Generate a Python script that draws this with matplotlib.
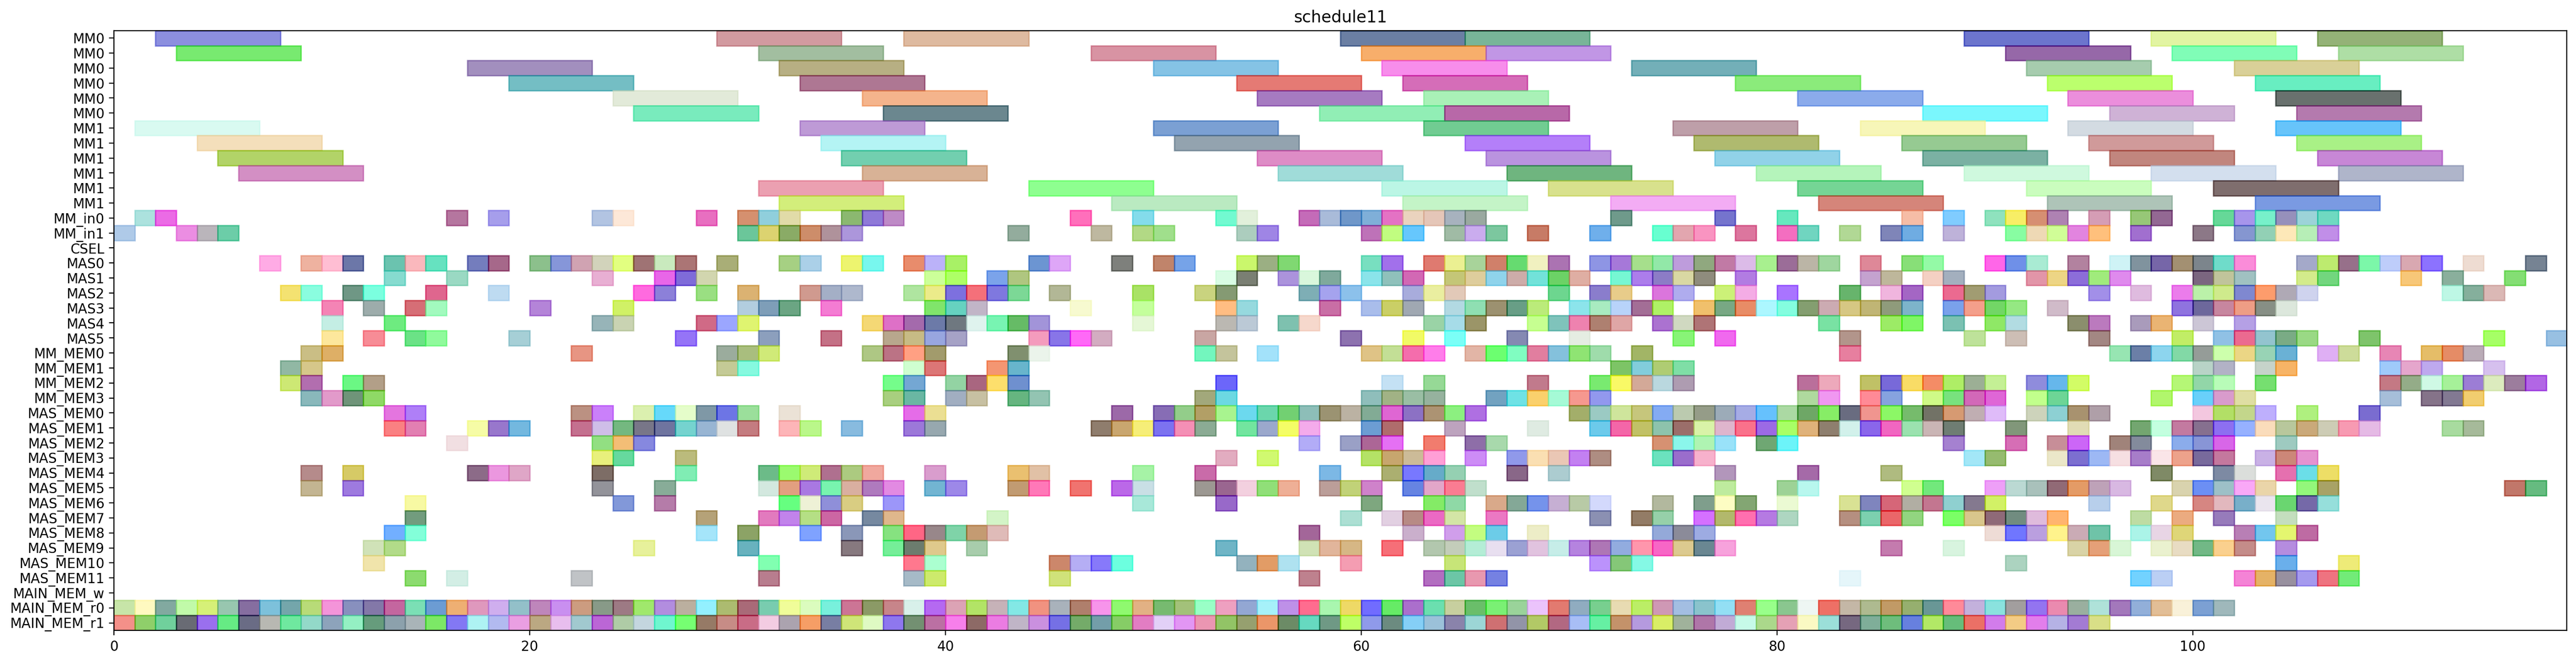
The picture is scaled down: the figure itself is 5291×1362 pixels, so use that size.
import matplotlib
matplotlib.use("Agg")
import matplotlib.pyplot as plt
from matplotlib.colors import to_rgb

TITLE = "schedule11"
ALPHA = 0.6
LONG_LEN = 6

row_labels = (["MM0"] * 6 + ["MM1"] * 6 + ["MM_in0", "MM_in1", "CSEL"]
              + ["MAS%d" % i for i in range(6)]
              + ["MM_MEM%d" % i for i in range(4)]
              + ["MAS_MEM%d" % i for i in range(12)]
              + ["MAIN_MEM_w", "MAIN_MEM_r0", "MAIN_MEM_r1"])

# start -> colour as it looks on white, one dict per row
mm0_rows = [
    {2: "#8C8FE0", 29: "#D29AA0", 38: "#DEBAA0", 59: "#6B7FA3", 65: "#78B698", 89: "#6C75CE", 98: "#E3F5A3", 106: "#94B277"},
    {3: "#78EA70", 31: "#A2BFA0", 47: "#D893A3", 60: "#F7AE6B", 66: "#C296E6", 91: "#9668A8", 99: "#80FDB7", 107: "#AEDEA5"},
    {17: "#A28FBE", 32: "#B7AF83", 50: "#85C3E6", 61: "#F78DEB", 73: "#73B0B8", 92: "#A6CCAE", 102: "#D9D098"},
    {19: "#74BEC4", 33: "#AE7793", 54: "#E57A74", 62: "#D56DB8", 78: "#8BEC7B", 93: "#BCFF6D", 103: "#68EEC1"},
    {24: "#E3EAD9", 36: "#F4B48C", 55: "#A67BC2", 63: "#A9F2B7", 81: "#8BABEC", 94: "#EC8EDC", 104: "#69716E"},
    {25: "#79EBBD", 37: "#6B878F", 58: "#91EFB6", 64: "#B968A8", 87: "#7AF8FD", 96: "#CFB2D6", 105: "#B47AAE"},
]
mm1_rows = [
    {1: "#D9FAF2", 33: "#BE9AD6", 50: "#7BA0D3", 63: "#71CC92", 75: "#BF9FA9", 84: "#F8F6B8", 94: "#D3DBE2", 104: "#67C5FB"},
    {4: "#F5DFBC", 34: "#B4F5F5", 51: "#93A3AF", 65: "#B47FF9", 76: "#AFBA6F", 86: "#96CA92", 95: "#D09A9A", 105: "#A9F186"},
    {5: "#B3D468", 35: "#72CFAF", 55: "#DE8CC6", 66: "#BA93DF", 77: "#91D2E8", 87: "#7BB1A3", 96: "#C1867E", 106: "#C887D6"},
    {6: "#D38FC4", 36: "#D8B296", 56: "#A0DDD9", 67: "#6FB57F", 79: "#B5F5BB", 89: "#CFF9DE", 98: "#D3DFEE", 107: "#AFB5CB"},
    {31: "#EBA0B1", 44: "#8EFF90", 61: "#BBF6E6", 69: "#D8E18D", 81: "#75D595", 92: "#CBFDBF", 101: "#7F6E6E"},
    {32: "#D3EF7B", 48: "#BAEAC2", 62: "#C5F5C7", 72: "#F3ACF4", 82: "#D5857A", 93: "#AEC4B8", 103: "#7A9AE2"},
]
mm_in_rows = [
    {1: "#ADE3DE", 2: "#EC6BE6", 16: "#B6769F", 18: "#A69EEB", 23: "#B3C4E3", 24: "#FDE8D8", 28: "#E86FC0", 30: "#D5906F",
     31: "#90CFDD", 32: "#E1DBA8", 35: "#8BB870", 36: "#8F79D8", 37: "#BF8AC6", 46: "#FF6FBC", 49: "#84DDEB", 53: "#72FBD1",
     54: "#E3F0DB", 57: "#C46BB8", 58: "#A9BBDA", 59: "#6F97C9", 60: "#7FB0D8", 61: "#E472C5", 62: "#EAD3BE", 63: "#E5C6B8",
     64: "#A7B2BE", 65: "#9AA9A0", 72: "#6F9A8B", 77: "#7574CE", 80: "#66E8BE", 86: "#F6BDA6", 88: "#80CCFF", 90: "#8FE3BE",
     91: "#F7EE66", 92: "#D68F72", 93: "#AE82B3", 95: "#D59DB6", 97: "#97C777", 98: "#936893", 101: "#64D898", 102: "#A795EC",
     103: "#77F0CB", 104: "#9690BC", 105: "#9CD3D8", 106: "#6FD9C2"},
    {0: "#B0CAE8", 3: "#EC8DE3", 4: "#BAB6BC", 5: "#6CCEA8", 30: "#6BC69A", 31: "#DCD370", 32: "#8AAB66", 33: "#CE8D6A",
     34: "#B0929B", 35: "#AD96DB", 43: "#93AD9D", 47: "#BFB8A0", 49: "#B2D985", 50: "#A0E08C", 54: "#ADCDBF", 55: "#9F85E6",
     60: "#BE72B8", 61: "#C1FD80", 62: "#66C8FD", 64: "#A0BBA5", 65: "#CBACEF", 66: "#7CC79F", 68: "#C87B60", 71: "#6FAFEB",
     74: "#68FFD0", 75: "#E3A6AF", 76: "#F994C2", 78: "#DC769E", 80: "#F36EC0", 81: "#70D5C0", 83: "#B1D895", 85: "#7F85B8",
     86: "#6FACE3", 88: "#BEB2D9", 91: "#88FDA2", 92: "#EFD9B6", 93: "#D1FD97", 94: "#E384E0", 95: "#FFC07C", 97: "#A16FCF",
     100: "#8C7887", 102: "#8596D1", 103: "#92D0B6", 104: "#FDE9B9", 105: "#B7EEB7", 106: "#C28EE9"},
    {},
]
mas_rows = [
    {7: "#FFABE6", 9: "#EEB2A0", 10: "#FFBFD4", 11: "#6C77A8", 13: "#6BC3AF", 14: "#FAB9BD", 15: "#60E2C0", 17: "#747DBD",
     18: "#A6688A", 20: "#8CC08C", 21: "#8696D9", 22: "#D0A3B3", 23: "#D2D4BC", 24: "#E3FF80", 25: "#9F7374", 26: "#C9EABF",
     27: "#AB7575", 29: "#AAAE77", 32: "#A6D083", 33: "#ABD0E8", 35: "#EDF46F", 36: "#78F8EE", 38: "#E88C6C", 39: "#BCB2F9",
     40: "#A8F25F", 44: "#6C95D2", 45: "#DEA6F7", 48: "#7E807C", 50: "#C0846B", 51: "#76A3E8", 54: "#CBF86C", 55: "#9BAF83",
     56: "#80D872", 60: "#78E0C0", 61: "#A270EC", 63: "#E07A70", 64: "#ECF092", 65: "#A8D49A", 66: "#D0806A", 67: "#5FDB70",
     68: "#F2F2C0", 69: "#AB73B3", 71: "#8E95E4", 72: "#A678D9", 73: "#A6E08C", 74: "#92E8A8", 75: "#BE9CDD", 76: "#90A87F",
     77: "#C27AA5", 78: "#DDBBE8", 79: "#A8F08F", 80: "#9B6D98", 81: "#BCB6A6", 82: "#9FD69F", 84: "#DE8898", 86: "#88DF78",
     87: "#94FBA6", 90: "#FF66E8", 91: "#6F90E8", 92: "#AAEBD3", 94: "#B3829F", 96: "#CFF3F6", 97: "#80939E", 98: "#7665A8",
     99: "#A39072", 100: "#7C858C", 101: "#6FDCCB", 102: "#FA8CD9", 105: "#A4AAC9", 106: "#BDEB6F", 107: "#97708A",
     108: "#7CF8A9", 109: "#BFCEFB", 110: "#D9A8B1", 111: "#8C72FF", 113: "#EFDDD2", 116: "#768393"},
    {13: "#86DBCF", 16: "#9AD9C3", 23: "#E9B0D3", 26: "#E962E8", 27: "#7F6BD9", 28: "#D2D6B0", 39: "#CCFF99", 40: "#AEFF66",
     42: "#7BA3EA", 43: "#B0C680", 53: "#D9FCE4", 54: "#7A7F73", 56: "#AB93DD", 57: "#D9F8DC", 58: "#7FA99C", 60: "#8AE4EA",
     61: "#8FC2BC", 62: "#D268B4", 64: "#C4C677", 65: "#DECE9C", 66: "#8FD4EC", 67: "#CDADAA", 68: "#72E2D9", 69: "#6CD264",
     70: "#E0AEA3", 72: "#76F8D4", 73: "#AC7DEB", 74: "#8C7CC6", 75: "#DAD8A3", 76: "#8F8C7D", 78: "#B37CE3", 84: "#C5A2CF",
     85: "#BFB79B", 87: "#F5D1C3", 88: "#A3AFBF", 92: "#E295A8", 93: "#EDD585", 94: "#8C6DD9", 95: "#A0EC7C", 96: "#E08AED",
     100: "#7B6580", 101: "#C0C59B", 102: "#A0C2C2", 105: "#D4EB8B", 106: "#72D67E", 110: "#F7C878", 112: "#8AAF9C", 115: "#84DE74"},
    {8: "#F5E371", 9: "#8AFDE0", 11: "#6F9785", 12: "#7BFFE0", 15: "#E0668E", 18: "#BFDBF2", 25: "#FF6AE0", 26: "#8C80D9",
     28: "#9AE082", 30: "#DBB272", 33: "#D19A8F", 34: "#A4AFC6", 35: "#AEB8CE", 38: "#B0E6A0", 39: "#EBEB8A", 40: "#7D70E0",
     41: "#F4707A", 42: "#7F78E0", 43: "#7CD896", 45: "#B3B796", 49: "#A9E25F", 52: "#C9D47F", 53: "#859A73", 57: "#7EAEB5",
     58: "#A5A3EE", 59: "#8CC2EC", 62: "#A8ACDD", 63: "#EAEFA0", 64: "#E3C9B8", 69: "#6DD68F", 71: "#8A7DCC", 72: "#E8CC8A",
     74: "#DB75DD", 75: "#B0ADEE", 77: "#CCF278", 78: "#F5ACE6", 80: "#AA74FF", 83: "#67B46C", 85: "#F0B6DE", 86: "#A463C4",
     88: "#EB6A90", 89: "#A19C72", 90: "#A39BE0", 95: "#A28FE9", 97: "#E0BBDF", 99: "#EC7CEC", 100: "#BCF2A9", 101: "#CFEA8C",
     102: "#7F88D1", 103: "#FD9C6C", 104: "#B0AAB6", 105: "#CFD4EE", 112: "#BEF7E6", 113: "#85AF9C", 114: "#DBB9B6"},
    {10: "#F484B5", 12: "#9DADAB", 14: "#D66E76", 15: "#A2FBBF", 20: "#B484D8", 24: "#D1F266", 30: "#B3CEDF", 31: "#7E9EB9",
     32: "#6BA583", 34: "#F47CD3", 39: "#80E66B", 40: "#66D2C0", 41: "#C2B5C8", 46: "#F8FBD0", 49: "#C5FF9C", 53: "#FFBD82",
     54: "#96D9DE", 58: "#C96EA5", 60: "#AABDEC", 61: "#CBCF66", 62: "#A0A8B2", 64: "#B3D9E2", 65: "#8FE0B3", 66: "#9C9170",
     67: "#689E86", 68: "#BCEB7A", 70: "#8CE4EC", 71: "#A8EBC0", 72: "#B8D4FA", 73: "#A36E96", 74: "#AFF166", 76: "#F0C06C",
     77: "#78A884", 78: "#E98C66", 79: "#ADF7FF", 80: "#84FDE0", 81: "#849E70", 82: "#CCABB2", 83: "#D7C883", 84: "#C0B675",
     85: "#8F9B7B", 86: "#7DB4CB", 88: "#7AA1EC", 89: "#F59F8B", 90: "#72D666", 91: "#95E883", 93: "#D1BCC9", 99: "#8F73E0",
     100: "#6D689C", 101: "#C7869F", 102: "#EF9D85", 103: "#878F85", 104: "#DCE7DC"},
    {10: "#C5EFE4", 13: "#6EEB80", 23: "#97B4B8", 24: "#C9D3B3", 28: "#D06A86", 29: "#9BA6FF", 30: "#E0F470", 36: "#F5D875",
     37: "#DE70C8", 38: "#A46AAD", 39: "#6C7AA8", 40: "#6F7880", 41: "#E0F3EF", 42: "#78F5B3", 43: "#65BC66", 44: "#A294D9",
     49: "#E5F7D6", 53: "#BBB9B3", 54: "#BCC9D6", 56: "#7EC2AF", 57: "#F6D8CC", 63: "#9AD3A6", 64: "#A6DCE8", 65: "#9B9568",
     68: "#C6FF91", 69: "#7FC3BC", 70: "#EE82B0", 71: "#AE8070", 72: "#E0A6A6", 74: "#AB72D0", 75: "#D1D9C1", 76: "#AF7476",
     82: "#79E2A3", 85: "#9CEB66", 86: "#7FF666", 88: "#7BC1B3", 90: "#8FE866", 91: "#B2DDE2", 94: "#8B8E6D", 95: "#BC7ABF",
     97: "#A99BBB", 98: "#EAB473", 100: "#CCC6D6", 102: "#B5A0E6"},
    {10: "#FDE79C", 12: "#F78C96", 14: "#6BE286", 15: "#90FB9C", 19: "#A6CFD6", 27: "#9574F8", 31: "#8C9FBD", 34: "#C57186",
     37: "#B9A78D", 38: "#C7BB85", 39: "#98A6E0", 40: "#A6A2C6", 44: "#F59BBD", 45: "#8875E8", 46: "#FF69F7", 47: "#D3ADC2",
     52: "#C9A6A3", 59: "#8D72AF", 62: "#F2FB5C", 64: "#7BFFF8", 67: "#8589B3", 70: "#E6EDE3", 75: "#88F577", 77: "#F069EF",
     83: "#B3958B", 89: "#BEE39A", 91: "#CEBFB6", 95: "#A38783", 99: "#C2ED66", 101: "#90C2E6", 102: "#EC6A90", 103: "#93C4CF",
     104: "#7AAB85", 105: "#9AD985", 108: "#7EC46B", 114: "#A6FF66", 117: "#98C0E3"},
]
mm_mem_rows = [
    {9: "#CBBE85", 10: "#DEB064", 22: "#E79583", 29: "#9BAD9D", 30: "#A9BF7E", 31: "#D1EA78", 36: "#AEC784", 37: "#BC7385",
     38: "#FFA083", 39: "#A29B6C", 43: "#80906F", 44: "#EBF5EC", 52: "#73F6BE", 53: "#C4C49C", 55: "#A3E2FA", 60: "#DFC386",
     61: "#C3DF96", 62: "#F56DAD", 63: "#FF7DEA", 65: "#E3B6A6", 66: "#6CFF70", 67: "#80FDC2", 68: "#E17E9F", 69: "#84C2DC",
     70: "#8FE473", 71: "#9FDCAB", 73: "#A2B564", 83: "#E77F9F", 96: "#97E6B3", 97: "#6B7FA7", 98: "#8DD5EF", 99: "#82DAA6",
     100: "#959C98", 101: "#CDFFAC", 102: "#ECD785", 103: "#98D4B6", 104: "#6AB1D5", 106: "#E0B0F5", 107: "#CEDC9A",
     109: "#E786B5", 111: "#E5BD68", 112: "#E58C66", 113: "#BAADB7"},
    {8: "#91B8A4", 9: "#D6C78A", 29: "#C5CA96", 30: "#86F9DF", 38: "#CFFFD0", 39: "#DD7676", 42: "#F49672", 43: "#68B6CC",
     72: "#7DC466", 73: "#82CEDC", 74: "#B0CC73", 75: "#7FDEA6", 100: "#B9D4C8", 101: "#B3B3C6", 103: "#C6D3CB", 104: "#F8B460",
     109: "#9FCAFB", 110: "#E5A6CC", 111: "#BEA9EE", 114: "#D7C0EF"},
    {8: "#CEE874", 9: "#B36EB0", 11: "#6BF884", 12: "#B39F88", 37: "#75FD8B", 38: "#74A7D3", 40: "#93D3A3", 41: "#A96680",
     42: "#FDDF6C", 43: "#6F90CF", 53: "#6C66FA", 61: "#C5E1F5", 63: "#96D996", 68: "#C27A8C", 71: "#79EA70", 72: "#F9F966",
     73: "#D3AA98", 74: "#BAD8E0", 75: "#AE9CB1", 81: "#BA6F9B", 82: "#EDA9BB", 84: "#C0C264", 85: "#7869D9", 86: "#F9DC66",
     87: "#F48C66", 88: "#AEEF66", 89: "#9CAF95", 90: "#C5F095", 92: "#8F8CDD", 93: "#66B7EC", 94: "#D2FC66", 99: "#B5F776",
     100: "#92D6A8", 101: "#B9FCB9", 103: "#76DF70", 109: "#C57984", 110: "#94AD88", 111: "#CFF9E5", 112: "#A6F299",
     113: "#9C7DD5", 114: "#DDEBBE", 115: "#9C7D9D", 116: "#B266E6"},
    {9: "#89B8BB", 10: "#E39ACB", 11: "#6F9479", 12: "#8FD966", 37: "#A8CF7F", 38: "#6AB7A3", 40: "#A1AEC2", 41: "#C8C0A2",
     43: "#66B580", 44: "#93C4B3", 52: "#A2A87B", 53: "#6CDAE2", 60: "#8FBEBC", 61: "#A1B285", 62: "#9ABFA4", 63: "#96B39E",
     66: "#72A2C0", 67: "#6FE2E6", 68: "#FBD06C", 69: "#A5FBD7", 70: "#F6988F", 71: "#9298EE", 81: "#B0D99E", 82: "#F097F2",
     84: "#FF8A96", 85: "#86A3E0", 87: "#CFFA87", 88: "#78E27E", 89: "#D268B8", 90: "#E066D6", 92: "#C2FF8C", 93: "#6DD596",
     98: "#B1F66C", 100: "#69D0FB", 101: "#D99BCC", 102: "#E0DEA3", 109: "#A6BFD9", 111: "#857389", 112: "#827992", 113: "#F2CD6F"},
]
mas_mem_rows = [
    {13: "#E475E0", 14: "#AF7FF7", 22: "#BC9182", 23: "#CB80FB", 25: "#DBF0AF", 26: "#5FD9FA", 27: "#E6FDCB", 28: "#7F98A6",
     29: "#6D75E6", 30: "#9BE09B", 32: "#EBE3D6", 38: "#E66CE9", 39: "#EBE093", 48: "#9C69A8", 50: "#876DB6", 51: "#93CE8A",
     52: "#B39F66", 53: "#A8F58F", 54: "#6CD9EE", 55: "#6BD6AC", 56: "#72D072", 57: "#8DBFB8", 58: "#9B9372", 59: "#BCB3A3",
     60: "#82AB95", 61: "#E066D3", 62: "#8C71C5", 63: "#AD9373", 64: "#8CF080", 65: "#B06FE3", 70: "#A3AE6A", 71: "#9BCBC3",
     72: "#CFE69C", 73: "#C6C67C", 74: "#84ABF3", 75: "#BCCAB0", 76: "#959C88", 77: "#9CABB9", 78: "#A6ACE6", 79: "#66C1FD",
     80: "#ABD9A3", 81: "#6EA766", 82: "#87ED5C", 83: "#696C80", 84: "#F0958F", 85: "#8CF766", 86: "#76BB6C", 87: "#727264",
     88: "#D69A72", 89: "#C0AEB3", 90: "#E0BBF9", 92: "#CED3BC", 93: "#8DD0D3", 94: "#A8926F", 95: "#AF9FA8", 100: "#F3C7E0",
     101: "#B2E066", 102: "#C3D68B", 103: "#BFB0FD", 105: "#AFF07F", 108: "#7A6CD0"},
    {13: "#FA8082", 14: "#E27FB3", 17: "#F6FCA6", 18: "#9877CC", 19: "#73B8E0", 22: "#C5708F", 23: "#CFBEE8", 24: "#74B980",
     25: "#787688", 26: "#6F749F", 27: "#75D3CF", 28: "#98B5D3", 29: "#E0E3E3", 30: "#C47C80", 32: "#FDB6B9", 33: "#BAF78A",
     35: "#88BCE0", 38: "#9C78D9", 39: "#97A8B0", 47: "#8F7D6D", 48: "#C9A66F", 49: "#F6EE78", 50: "#7C72F0", 51: "#F48FB6",
     52: "#8BAB94", 54: "#72E69F", 55: "#9BA8CC", 56: "#F4FE66", 57: "#F4ABEC", 60: "#6C9DD3", 61: "#B06C6C", 64: "#BDA3BF",
     68: "#E0ECE2", 71: "#6CCBEC", 72: "#F464A8", 73: "#C1C266", 74: "#8DC3AD", 75: "#9B6E6A", 76: "#D9F3A8", 77: "#E0B5CD",
     78: "#FA718B", 79: "#9C6AE6", 80: "#A8FF66", 81: "#DFB37A", 82: "#8E7F6E", 83: "#D2F2EC", 84: "#8A5DEC", 85: "#F264C2",
     86: "#9BE2B0", 87: "#CBB5B5", 88: "#6F7D73", 91: "#81977A", 94: "#E1DDB5", 97: "#73A670", 98: "#C3FFE0", 99: "#C37AA0",
     100: "#86708F", 101: "#8D6FF2", 102: "#96B1FF", 103: "#FADCBB", 104: "#B9C79C", 105: "#CBA97A", 106: "#CECCB6",
     107: "#F79AB2", 108: "#E6BAE6", 112: "#A8DB9F", 113: "#A6BA9A"},
    {16: "#F2E0E3", 23: "#92E082", 24: "#F3BE76", 25: "#8688DF", 57: "#B3ADF7", 59: "#9AA0C6", 60: "#AD5F96", 61: "#E670F4",
     63: "#F27C6E", 65: "#8E6EA8", 66: "#A8DAAD", 74: "#D69172", 75: "#8BF6EC", 76: "#AFF5B3", 77: "#99E2F9", 79: "#6FA773",
     80: "#6CF5F9", 88: "#A581D0", 91: "#D66EB6", 93: "#C88E98", 94: "#CC66F7", 96: "#A0837A", 97: "#838B9C", 99: "#8BADEC",
     100: "#8895D6", 101: "#D860E8", 104: "#9ECBC0"},
    {23: "#E8F07C", 24: "#66DA9E", 27: "#BCBB7C", 53: "#E3ADC0", 55: "#D0F970", 60: "#B4E362", 61: "#C8A66E", 62: "#CCBB98",
     63: "#FF9FD6", 65: "#CE8CF6", 67: "#9099EA", 68: "#FBDFB2", 69: "#EAC7B6", 70: "#C380F2", 71: "#AE8D82", 74: "#6BE3BE",
     75: "#9A6DCC", 76: "#F7B1CC", 89: "#A3E7F7", 90: "#96BC6F", 93: "#EBE7C9", 94: "#7C6FD0", 95: "#9DB9F4", 96: "#F6DFE3",
     97: "#A77DC9", 98: "#FAE6E8", 99: "#EDA28B", 100: "#786A9C", 101: "#C5789E", 103: "#C9B1E6", 104: "#CC8778", 105: "#E592D1"},
    {9: "#B68B8B", 11: "#D6CB64", 17: "#8C6B88", 18: "#EC97E0", 19: "#DFA6C8", 23: "#7D6D66", 27: "#80EDB4", 31: "#6CBC88",
     32: "#9BFB6F", 33: "#CFEC78", 34: "#B0708F", 35: "#ADCB80", 36: "#F0A89E", 39: "#D99DCE", 43: "#EAC070", 44: "#E1C2A6",
     49: "#A6F3A6", 52: "#C96BA9", 58: "#7CB8E6", 61: "#ABAF70", 62: "#7878FF", 63: "#66ABC9", 64: "#95D0B3", 67: "#896788",
     69: "#ADCCD0", 77: "#B396BC", 81: "#A56AA8", 85: "#B0BC80", 98: "#7F8A66", 101: "#7D8AA3", 102: "#DBDEDB", 104: "#E670B0",
     105: "#6BDEE9", 106: "#EDDE66"},
    {9: "#C3B692", 11: "#9E7ADF", 23: "#93939A", 26: "#88AC98", 31: "#D3E9DF", 32: "#E39F80", 33: "#A978E3", 34: "#78F4B0",
     35: "#D9AFA0", 36: "#AF7ABE", 37: "#E38AE3", 39: "#72B6D2", 40: "#9D88E9", 43: "#C29B72", 44: "#FF78B8", 46: "#F0736F",
     48: "#BC68E8", 49: "#C9E0E6", 52: "#9C9892", 53: "#9A6690", 54: "#F3D0E0", 55: "#90E078", 56: "#EEAF96", 58: "#BB9E99",
     59: "#C2D278", 60: "#CF82CB", 62: "#6684E3", 63: "#E2A6C9", 64: "#FA7C92", 65: "#C0DFCC", 77: "#BEEB9E", 80: "#9DD296",
     81: "#B8F8EE", 86: "#D0FF90", 87: "#72E87C", 90: "#EE9FF8", 91: "#BBDAD3", 92: "#A9C1BB", 93: "#916A76", 94: "#E49B66",
     95: "#BFA2B8", 96: "#D8B8E3", 99: "#DAD3AE", 100: "#6C8FF5", 101: "#9DC0C8", 102: "#F9A8F8", 103: "#EAD5A9", 105: "#93F87B",
     106: "#A8A266", 115: "#C2776A", 116: "#66BC80"},
    {14: "#F8F9A3", 24: "#8298D9", 26: "#B67CA9", 32: "#66FF80", 33: "#EFF2D6", 34: "#8F8FD9", 35: "#D9CE82", 37: "#9C96F9",
     49: "#A8E9D9", 53: "#9869C9", 60: "#7EA77F", 63: "#84EB66", 64: "#8FD9A6", 66: "#D9A98A", 67: "#84A897", 68: "#7593EC",
     69: "#C6B0D3", 70: "#B9CBA6", 71: "#D3D9FC", 74: "#B3B89E", 76: "#7F9E8C", 77: "#FEFEC3", 78: "#83A673", 80: "#EBFBD3",
     83: "#D9E394", 84: "#7F85BF", 85: "#D66478", 86: "#B1AEA3", 87: "#C37690", 88: "#8FD0D0", 89: "#84798F", 90: "#D2F264",
     95: "#B9CFEB", 98: "#E0D88B", 100: "#D68682", 101: "#E3B9BF", 102: "#78AFC9", 103: "#EAE5EE", 104: "#6AD670", 105: "#7569A8",
     106: "#96E0DB"},
    {14: "#729C7E", 28: "#B5A278", 31: "#E37ABE", 32: "#C283EC", 33: "#B6DF85", 34: "#CC64A3", 36: "#7689A0", 37: "#E0B78C",
     42: "#D4F5C7", 59: "#ACE0D3", 61: "#E3D0E3", 62: "#B78A85", 63: "#EC69C3", 64: "#D3E5A6", 66: "#EC78C3", 71: "#8B90B3",
     73: "#937C66", 74: "#96D0A9", 76: "#D570FF", 77: "#B3B96C", 78: "#FF6FB0", 79: "#B67AE3", 80: "#AED6C2", 83: "#B58F80",
     84: "#7CD0B0", 85: "#EA6469", 86: "#92D580", 88: "#7BFF66", 89: "#D9C68C", 90: "#8F6A78", 91: "#718C80", 92: "#E0BCDD",
     93: "#FFB46F", 97: "#BEDCA3", 99: "#ECAB80", 101: "#977BBC", 104: "#C5DEBE"},
    {13: "#72B0FF", 14: "#83FFD9", 28: "#A5E5FB", 30: "#8CA366", 33: "#7FA2FF", 35: "#8A97B8", 37: "#86E380", 38: "#FF6685",
     39: "#98878A", 40: "#7FD3A8", 41: "#C49B72", 42: "#E0BCB8", 57: "#A36699", 62: "#CBB0CC", 64: "#D19EEC", 65: "#C3FD80",
     66: "#6CCCE8", 68: "#EDEDC8", 74: "#94AAD9", 75: "#8B8B99", 76: "#9DABE3", 90: "#EFDDD6", 91: "#7076FF", 92: "#BA9FE0",
     93: "#FFF38C", 94: "#CAABB6", 95: "#6FC3A8", 97: "#ABF4E9", 98: "#E8D5E6", 99: "#DFD678", 102: "#B97FB6", 103: "#72C6EF",
     104: "#E4F66F", 105: "#BF6BA3"},
    {12: "#D1E3B9", 13: "#B3DB89", 25: "#E7F29B", 30: "#68B3BF", 35: "#87797F", 37: "#75EF98", 38: "#6C7C6E", 39: "#E0C98C",
     41: "#A8CEAD", 53: "#6FB5C6", 57: "#D1E3B6", 58: "#E1B69B", 59: "#D6B785", 61: "#F66F78", 63: "#B3C8AE", 64: "#C3CEBA",
     65: "#B4EDD6", 66: "#E8E0F0", 67: "#9BA1D3", 68: "#E1C3E0", 69: "#C6EDE8", 70: "#B583E0", 71: "#AE76B6", 72: "#92ACE0",
     73: "#FF96AC", 74: "#F864C6", 75: "#DCCA8F", 76: "#6A8792", 77: "#F8A2DC", 85: "#C47BAE", 88: "#D8F4DF", 94: "#DAD3A6",
     95: "#E6A078", 96: "#D8F6D6", 98: "#EAF1CF", 99: "#E8DCC3", 100: "#72B886", 101: "#FBD08E", 102: "#C48C89", 104: "#B58CE0"},
    {12: "#F0E4AB", 31: "#81FFB1", 38: "#FF788E", 39: "#ABFFD0", 45: "#CC876B", 46: "#B5AEF5", 47: "#8779FB", 48: "#6CFFE0",
     54: "#93B3BF", 55: "#E29C66", 56: "#AFE2F0", 59: "#F49DB3", 64: "#C8E678", 71: "#BC92FC", 72: "#85C878", 73: "#85F9E6",
     91: "#ADD4C0", 104: "#6AAFEB", 107: "#EEEB78"},
    {14: "#8CDB6F", 16: "#D3EEE6", 22: "#C0C3C6", 31: "#B87D8E", 38: "#A6BAC8", 39: "#CEEA6C", 45: "#D0E37A", 57: "#BF818E",
     63: "#B36EC0", 64: "#6CC6A6", 65: "#E998B0", 66: "#7581E3", 83: "#E6F6FB", 97: "#72D2FF", 98: "#BCCFF5", 102: "#F583D6",
     103: "#E6B366", 104: "#98909F", 105: "#A59AEE", 106: "#EF7380", 107: "#72EC78"},
]
# main memory reads have one cell per cycle from 0 on
main_w_colors = []
main_r0_colors = [
    "#C8E5A8", "#FFF9C0", "#82AAA0", "#C2FAAA", "#D6F078", "#98C6B0", "#866EA0", "#7DC2DB", "#74A6AB", "#B8DB78",
    "#F594D9", "#8890BF", "#8378A8", "#C5669F", "#7BE0B6", "#6C9CD3", "#EFB073", "#E098BD", "#CFAEEE", "#93C0C9",
    "#BF86BC", "#C98FF0", "#CC9C80", "#889A88", "#9D7A84", "#A0E86C", "#B38DE0", "#BCAF9F", "#93F0FF", "#ADBC70",
    "#A96A78", "#79CCAF", "#F0FD99", "#DBFCBF", "#78F0DD", "#CC7595", "#8B9A66", "#C8858A", "#D8F0EA", "#B569F2",
    "#DDA3B5", "#B2E466", "#C6B3B9", "#83E9E6", "#F29280", "#A9B3BC", "#B07F6C", "#F794EB", "#8FF96F", "#E3B184",
    "#77BA70", "#A3C27A", "#99FFC6", "#EFA0C0", "#93A7D3", "#A6F1F9", "#BF90E8", "#FF6C8F", "#A9F6B0", "#EFDA66",
    "#716CFF", "#66EC66", "#AB6FCC", "#6BDFAF", "#C8CF9F", "#6ABF6A", "#7AF074", "#9AD39A", "#EBC3FC", "#E37A70",
    "#90ACC0", "#78CF8F", "#E8DBB3", "#BCEE66", "#CF98B5", "#A3BFE3", "#8AC3CC", "#93DFF5", "#E08072", "#98FF8A",
    "#8AC68F", "#EEF6F3", "#EE7066", "#C4B7A6", "#AEBA90", "#C19A66", "#96AF6F", "#699796", "#FF8A99", "#C3B1DC",
    "#8AE2DE", "#A29E9E", "#9374F0", "#EA8AAF", "#9AB09F", "#B0E2DA", "#A378BC", "#92B0D9", "#E3BF96", "#F9F1DA",
    "#7CA0D3", "#9FB9BC",
]
main_r1_colors = [
    "#F59089", "#8FCF6A", "#70D09C", "#696B74", "#9A6FEE", "#66EB84", "#6A6C85", "#B8B9B3", "#6FE89F", "#93DAC9",
    "#8DA3BB", "#94F0C3", "#669C7C", "#8CA1AC", "#A9B4B8", "#7CE866", "#8378F5", "#AEF3F3", "#B3BAF0", "#EA9FE3",
    "#BBA882", "#E8BFEE", "#A1C9CF", "#BC66D6", "#B0CCA6", "#C5D7E0", "#6FF6CF", "#76FF72", "#967A66", "#C88C86",
    "#C96C86", "#F3CCE3", "#ABA3AF", "#F69E66", "#787EA3", "#CFE678", "#DFFBC3", "#8E77EE", "#739072", "#BB70A3",
    "#F87FEC", "#8D6A66", "#EC7CE3", "#C0B5C8", "#CB90E0", "#7570E6", "#74AB69", "#739EA9", "#86CE66", "#E37DC3",
    "#E3D0F8", "#E396F5", "#EB96B3", "#92C566", "#96A06F", "#EC9669", "#6C8B66", "#66DAC0", "#6F9985", "#BFFF66",
    "#8F9AEA", "#6C8B80", "#85CFF6", "#9BC2D9", "#8A83AB", "#9CD6D6", "#CF7072", "#9294A8", "#B3C966", "#B26882",
    "#A8BFF6", "#66F0A3", "#C4926A", "#B59AE0", "#D9EF66", "#A0B39B", "#AF76A8", "#C2ABD6", "#C6FBE9", "#ABD88B",
    "#E6A1B5", "#FAF9C3", "#9BE0D9", "#766880", "#7FAE99", "#6EBD7C", "#6780DF", "#B3E866", "#66BD7A", "#EC7066",
    "#D27CEC", "#F3CC85", "#E37EEC", "#B5B3E6", "#A37BD3", "#D9DF87",
]


def base_colour(seen):
    # undo the white background so the alpha blend lands on the seen colour
    return tuple(min(1.0, max(0.0, (c - (1 - ALPHA)) / ALPHA)) for c in to_rgb(seen))


def draw_row(ax, row, cells, length):
    for start, seen in cells.items():
        c = base_colour(seen)
        ax.barh(row, length, left=start, height=1.0, color=c, edgecolor=c, alpha=ALPHA)


dpi = 200
fig = plt.figure(figsize=(5291.2 / dpi, 1362.2 / dpi), dpi=dpi)
ax = fig.add_axes([234 / 5291, 1 - 1295 / 1362, (5272 - 234) / 5291, (1295 - 63) / 1362])

row = 0
for cells in mm0_rows + mm1_rows:
    draw_row(ax, row, cells, LONG_LEN)
    row += 1
for cells in mm_in_rows + mas_rows + mm_mem_rows + mas_mem_rows:
    draw_row(ax, row, cells, 1)
    row += 1
for colours in [main_w_colors, main_r0_colors, main_r1_colors]:
    draw_row(ax, row, dict(enumerate(colours)), 1)
    row += 1

ax.set_yticks(range(len(row_labels)))
ax.set_yticklabels(row_labels)
ax.set_xlim(0, 118)
ax.set_ylim(len(row_labels) - 0.5, -0.5)
ax.set_title(TITLE)

fig.savefig("out.png", dpi=dpi)
